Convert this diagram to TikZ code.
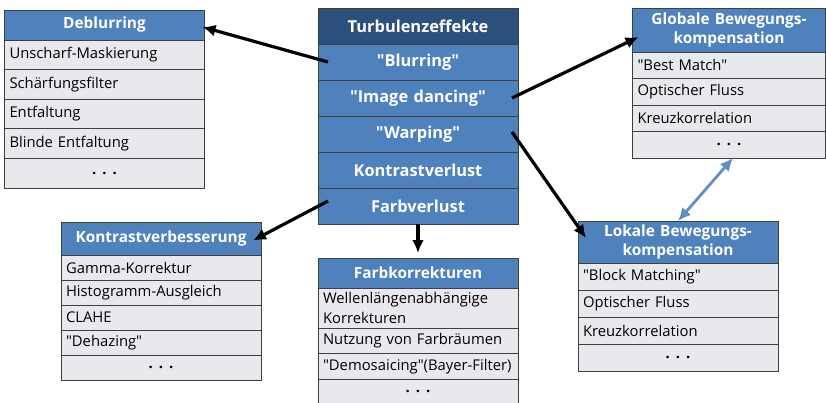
\documentclass[tikz,border=0pt]{standalone}
\usepackage{fontspec}
\setmainfont{Open Sans}[Ligatures=TeXOff]
\usetikzlibrary{positioning,arrows.meta}
\definecolor{kopfblau}{HTML}{4F81BD}
\definecolor{dunkelblau}{HTML}{2D4F7C}
\definecolor{zeilengrau}{HTML}{E7E9ED}
\definecolor{randgrau}{HTML}{3F3F3F}
\newcommand\punkte{\hfill\textbf{.\hspace{6pt}.\hspace{6pt}.}\hfill\mbox{}}
\begin{document}
\begin{tikzpicture}[x=1pt, y=-1pt,
	kasten/.style={draw=randgrau, line width=0.8pt, outer sep=0pt,
		inner xsep=5pt, inner ysep=0pt, text width=190pt,
		font=\fontsize{14.8}{19.5}\selectfont},
	kopf/.style={kasten, fill=kopfblau, text=white, align=center,
		font=\bfseries\fontsize{15.4}{19}\selectfont, minimum height=#1},
	zeile/.style={kasten, fill=zeilengrau, align=left, minimum height=#1},
	effekt/.style={kopf=36, font=\bfseries\fontsize{16.4}{19}\selectfont},
	pfeil/.style={-{Latex[length=13pt,width=12pt]}, line width=3.2pt},
	doppelpfeil/.style={{Latex[length=13pt,width=12pt]}-{Latex[length=13pt,width=12pt]},
		line width=2.8pt, draw=kopfblau!90!white},
]
\useasboundingbox (0,0) rectangle (826,403);
% Turbulenzeffekte
\node[effekt, fill=dunkelblau] (turb0) at (418,26) {Turbulenzeffekte};
\foreach \t [count=\i, remember=\i as \j (initially 0)] in
	{"Blurring","Image dancing","Warping",Kontrastverlust,Farbverlust}
	\node[effekt, below=0pt of turb\j] (turb\i) {\t};
% Deblurring
\node[kopf=30] (deb0) at (104.5,25) {Deblurring};
\foreach \t [count=\i, remember=\i as \j (initially 0)] in
	{Unscharf-Maskierung,Schärfungsfilter,Entfaltung,Blinde Entfaltung,\punkte}
	\node[zeile=29.6, below=0pt of deb\j] (deb\i) {\t};
% Globale Bewegungskompensation
\node[kopf=44, text width=183pt] (glob0) at (729,30)
	{Globale Bewegungs-\\kompensation};
\foreach \t [count=\i, remember=\i as \j (initially 0)] in
	{"Best Match",Optischer Fluss,Kreuzkorrelation,\punkte}
	\node[zeile=26.5, text width=183pt, below=0pt of glob\j] (glob\i) {\t};
% Lokale Bewegungskompensation
\node[kopf=42] (lok0) at (678,242) {Lokale Bewegungs-\\kompensation};
\foreach \t [count=\i, remember=\i as \j (initially 0)] in
	{"Block Matching",Optischer Fluss,Kreuzkorrelation,\punkte}
	\node[zeile=27, below=0pt of lok\j] (lok\i) {\t};
% Kontrastverbesserung
\node[kopf=33] (kon0) at (161,238.5) {Kontrastverbesserung};
\foreach \t [count=\i, remember=\i as \j (initially 0)] in
	{Gamma-Korrektur,Histogramm-Ausgleich,CLAHE,"Dehazing",\punkte}
	\node[zeile=25, below=0pt of kon\j] (kon\i) {\t};
% Farbkorrekturen
\node[kopf=30] (farb0) at (418,273) {Farbkorrekturen};
\node[zeile=40, below=0pt of farb0] (farb1)
	{Wellenlängenabhängige\\Korrekturen};
\foreach \t [count=\i from 2, remember=\i as \j (initially 1)] in
	{Nutzung von Farbräumen,"Demosaicing"(Bayer-Filter),\punkte}
	\node[zeile=25.5, below=0pt of farb\j] (farb\i) {\t};
% Pfeile
\draw[pfeil] ([xshift=10]turb1.west) -- ([shift={(-2,2)}]deb0.east);
\draw[pfeil] ([xshift=-6]turb2.east) -- ([shift={(6,7)}]glob0.west);
\draw[pfeil] ([shift={(-6,-2)}]turb3.east) -- ([shift={(8,-4)}]lok0.west);
\draw[pfeil] ([shift={(10,-5)}]turb5.west) -- ([shift={(-8,2)}]kon0.east);
\draw[pfeil] (turb5.south) -- ([yshift=5]farb0.north);
\draw[doppelpfeil] ([xshift=4]glob4.south) -- (lok0.north);
\end{tikzpicture}
\end{document}
